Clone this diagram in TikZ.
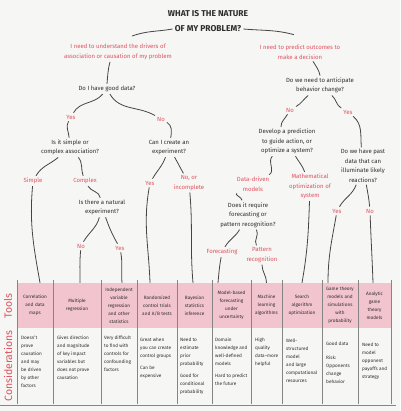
\documentclass[tikz,border=0pt]{standalone}
\usepackage{fontspec}
\setmainfont{Fira Sans}
\definecolor{ink}{HTML}{2E2E2E}
\definecolor{redc}{HTML}{E0525F}
\definecolor{pinkc}{HTML}{F2C4CE}
\definecolor{linec}{HTML}{454545}
\definecolor{divc}{HTML}{858585}
\definecolor{paper}{HTML}{F6F6F4}
\newcommand\qf{\fontsize{6}{9.5}\selectfont}
\newcommand\tf{\fontsize{4.7}{8}\selectfont}
\newcommand\ttlf{\fontsize{8.5}{10}\selectfont\bfseries}
\newcommand\sidef{\fontsize{10.5}{12}\selectfont}
\begin{document}
\begin{tikzpicture}[x=1pt,y=1pt,
  q/.style={font=\qf, text=ink, align=center, inner sep=2pt},
  rl/.style={q, text=redc},
  ttl/.style={font=\ttlf, text=ink, inner sep=2pt},
  conn/.style={draw=linec, line width=0.8pt},
  cell/.style={font=\tf, text=ink, align=center, fill=pinkc, minimum height=45pt, text width=#1, inner xsep=2pt, inner ysep=0pt},
  cons/.style={font=\tf, text=ink, align=left, anchor=north west, inner sep=0pt},
  divl/.style={draw=divc, line width=0.6pt},
  side/.style={font=\sidef, text=redc, rotate=90, inner sep=0pt}]
\fill[paper] (0,0) rectangle (400,-411);
\useasboundingbox (0,0) rectangle (400,-411);

% title
\node[ttl] (title1) at (208,-14) {WHAT IS THE NATURE};
\node[ttl] (title2) at (208,-29) {OF MY PROBLEM?};

% tree nodes
\node[rl] (L1) at (118,-52) {I need to understand the drivers of\\association or causation of my problem};
\node[rl] (R1) at (300,-52) {I need to predict outcomes to\\make a decision};
\node[q] (Q1) at (107,-89) {Do I have good data?};
\node[q] (Q2) at (320,-85.5) {Do we need to anticipate\\behavior change?};
\node[rl] (Y1) at (71,-117) {Yes};
\node[rl] (N1) at (161,-119) {No};
\node[q] (Q3) at (70,-147.5) {Is it simple or\\complex association?};
\node[q] (Q4) at (169,-147.5) {Can I create an\\experiment?};
\node[rl] (S1) at (33,-181) {Simple};
\node[rl] (C1) at (85,-181) {Complex};
\node[rl] (Y2) at (150,-183) {Yes};
\node[rl] (N2) at (189,-183) {No, or\\incomplete};
\node[q] (Q5) at (102,-207.5) {Is there a natural\\experiment?};
\node[rl] (N3) at (81,-246) {No};
\node[rl] (Y3) at (120,-248) {Yes};
\node[rl] (N4) at (290,-110) {No};
\node[rl] (Y4) at (348,-112) {Yes};
\node[q] (Q6) at (287,-141.5) {Develop a prediction\\to guide action, or\\optimize a system?};
\node[q] (Q7) at (363,-166) {Do we have past\\data that can\\illuminate likely\\reactions?};
\node[rl] (D1) at (253,-184) {Data-driven\\models};
\node[rl] (M1) at (310,-186.5) {Mathematical\\optimization of\\system};
\node[q] (Q8) at (248,-215) {Does it require\\forecasting or\\pattern recognition?};
\node[rl] (F1) at (222,-252) {Forecasting};
\node[rl] (P1) at (262,-255) {Pattern\\recognition};
\node[rl] (Y5) at (337,-211) {Yes};
\node[rl] (N5) at (370,-211) {No};

% table: tools row
\node[cell=32] (t1) at (35,-305.5) {Correlation\\and data\\maps};
\node[cell=44] (t2) at (77,-305.5) {Multiple\\regression};
\node[cell=32] (t3) at (119,-305.5) {Independent\\variable\\regression\\and other\\statistics};
\node[cell=36] (t4) at (157,-305.5) {Randomized\\control trials\\and A/B tests};
\node[cell=31] (t5) at (194.5,-305.5) {Bayesian\\statistics\\inference};
\node[cell=35] (t6) at (231.5,-305.5) {Model-based\\forecasting\\under\\uncertainty};
\node[cell=27] (t7) at (266.5,-305.5) {Machine\\learning\\algorithms};
\node[cell=36] (t8) at (302,-305.5) {Search\\algorithm\\optimization};
\node[cell=32] (t9) at (340,-305.5) {Game theory\\models and\\simulations\\with\\probability};
\node[cell=29] (t10) at (374.5,-305.5) {Analytic\\game\\theory\\models};

% dividers
\foreach \bx in {17,53,101,137,177,212,251,282,322,358,391}
  \draw[divl] (\bx,-280) -- (\bx,-404);
\draw[divl] (0,-405) -- (396,-405);

% considerations
\node[cons] (c1) at (21,-336) {Doesn't\\prove\\causation\\and may\\be driven\\by other\\factors};
\node[cons] (c2) at (57,-336) {Gives direction\\and magnitude\\of key impact\\variables but\\does not prove\\causation};
\node[cons] (c3) at (104,-336) {Very difficult\\to find with\\controls for\\confounding\\factors};
\node[cons] (c4) at (140,-338) {Great when\\you can create\\control groups\\[4pt]Can be\\expensive};
\node[cons] (c5) at (180,-338) {Need to\\estimate\\prior\\probability\\[4pt]Good for\\conditional\\probability};
\node[cons] (c6) at (215,-338) {Domain\\knowledge and\\well-defined\\models\\[4pt]Hard to predict\\the future};
\node[cons] (c7) at (255,-338) {High\\quality\\data--more\\helpful};
\node[cons] (c8) at (286,-339) {Well-\\structured\\model\\and large\\computational\\resources};
\node[cons] (c9) at (326,-342) {Good data\\[6pt]Risk:\\Opponents\\change\\behavior};
\node[cons] (c10) at (362,-343) {Need to\\model\\opponent\\payoffs and\\strategy};

% side labels
\node[side] (tools) at (8,-306) {Tools};
\node[side] (consid) at (8,-366) {Considerations};

% connectors
\draw[conn] (title2.west) to[out=190,in=20] ([xshift=14pt,yshift=6pt]L1.north);
\draw[conn] (title2.east) to[out=-5,in=165] ([xshift=-6pt,yshift=8pt]R1.north);
\draw[conn] ([xshift=-8pt]L1.south) to[out=-105,in=85] (Q1.north);
\draw[conn] ([xshift=13pt]R1.south) to[out=-60,in=100] (Q2.north);
\draw[conn] (Q1) to[out=-130,in=60] (Y1);
\draw[conn] (Q1) to[out=-60,in=150] (N1);
\draw[conn] (Y1) to[out=-120,in=95] (Q3);
\draw[conn] (N1) to[out=-30,in=80] (Q4);
\draw[conn] (Q3) to[out=-140,in=60] (S1);
\draw[conn] (Q3) to[out=-50,in=110] (C1);
\draw[conn] (C1) to[out=-60,in=100] (Q5);
\draw[conn] (S1) to[out=-95,in=100] ([xshift=5pt]t1.north);
\draw[conn] (Q5) to[out=-105,in=60] (N3);
\draw[conn] (Q5) to[out=-70,in=120] (Y3);
\draw[conn] (N3) to[out=-95,in=90] ([xshift=3pt]t2.north);
\draw[conn] (Y3) to[out=-80,in=95] ([xshift=3pt]t3.north);
\draw[conn] (Q4) to[out=-110,in=60] (Y2);
\draw[conn] (Q4) to[out=-60,in=120] (N2);
\draw[conn] (Y2) to[out=-100,in=92] ([xshift=-7pt]t4.north);
\draw[conn] (N2) to[out=-85,in=95] ([xshift=-1.5pt]t5.north);
\draw[conn] (Q2) to[out=-140,in=30] (N4);
\draw[conn] (Q2) to[out=-40,in=150] (Y4);
\draw[conn] (N4) to[out=-120,in=90] ([xshift=-6pt]Q6.north);
\draw[conn] (Y4) to[out=-40,in=95] (Q7);
\draw[conn] (Q6) to[out=-135,in=30] (D1);
\draw[conn] (Q6) to[out=-60,in=110] (M1);
\draw[conn] (D1) to[out=-150,in=90] ([xshift=-6pt]Q8.north);
\draw[conn] (Q8) to[out=-120,in=60] (F1);
\draw[conn] (Q8) to[out=-60,in=120] (P1);
\draw[conn] (F1) to[out=-100,in=85] ([xshift=-13.5pt]t6.north);
\draw[conn] (P1) to[out=-90,in=90] (t7.north);
\draw[conn] (M1) to[out=-92,in=80] (t8.north);
\draw[conn] (Q7) to[out=-110,in=60] (Y5);
\draw[conn] (Q7) to[out=-80,in=95] (N5);
\draw[conn] (Y5) to[out=-100,in=90] ([xshift=-12pt]t9.north);
\draw[conn] (N5) to[out=-88,in=92] ([xshift=-1.5pt]t10.north);
\end{tikzpicture}
\end{document}
